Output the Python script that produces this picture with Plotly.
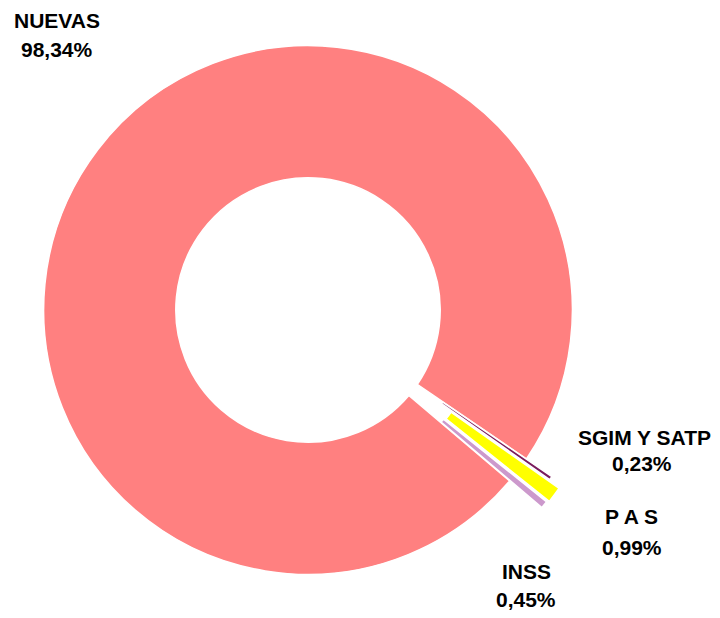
import plotly.graph_objects as go

# ---- data ----
categories = ["NUEVAS", "SGIM Y SATP", "P A S", "INSS"]
values = [98.34, 0.23, 0.99, 0.45]
pct_labels = ["98,34%", "0,23%", "0,99%", "0,45%"]

# ---- style ----
colors = ["#FF8080", "#7A1C5C", "#FFFF00", "#CC99CC"]
pulls = [0, 0.117, 0.165, 0.158]
# label anchor positions in pixels: (x line1, y line1, x line2, y line2)
label_pos = {
    "NUEVAS": (57.5, 21, 56.5, 49),
    "SGIM Y SATP": (644, 437, 641.5, 463.5),
    "P A S": (631.5, 516, 631.5, 547),
    "INSS": (526, 571, 525.5, 599),
}

W, H = 720, 618
FONT = "Liberation Sans, Arial, sans-serif"
CX, CY, HALF = 308, 310, 308  # pie centre and half-size of its domain (px)

fig = go.Figure(go.Pie(
    labels=categories,
    values=values,
    sort=False,
    direction="clockwise",
    rotation=130.3,
    hole=0.5,
    pull=pulls,
    marker=dict(colors=colors, line=dict(color="white", width=1.5)),
    textinfo="none",
    hoverinfo="label+percent",
    showlegend=False,
    domain=dict(x=[(CX - HALF) / W, (CX + HALF) / W],
                y=[(H - CY - HALF) / H, (H - CY + HALF) / H]),
))

annotations = []
for cat, pct in zip(categories, pct_labels):
    x1, y1, x2, y2 = label_pos[cat]
    for txt, px, py in ((cat, x1, y1), (pct, x2, y2)):
        annotations.append(dict(
            text=f"<b>{txt}</b>", x=px / W, y=1 - py / H,
            xref="paper", yref="paper", xanchor="center", yanchor="middle",
            showarrow=False, font=dict(family=FONT, size=21, color="black"),
        ))

fig.update_layout(
    width=W, height=H,
    margin=dict(l=0, r=0, t=0, b=0),
    paper_bgcolor="white", plot_bgcolor="white",
    annotations=annotations,
)

fig.write_html(
    "out.html",
    config={"displayModeBar": False},
    post_script="document.body.style.margin='0';document.body.style.overflow='hidden';",
)
